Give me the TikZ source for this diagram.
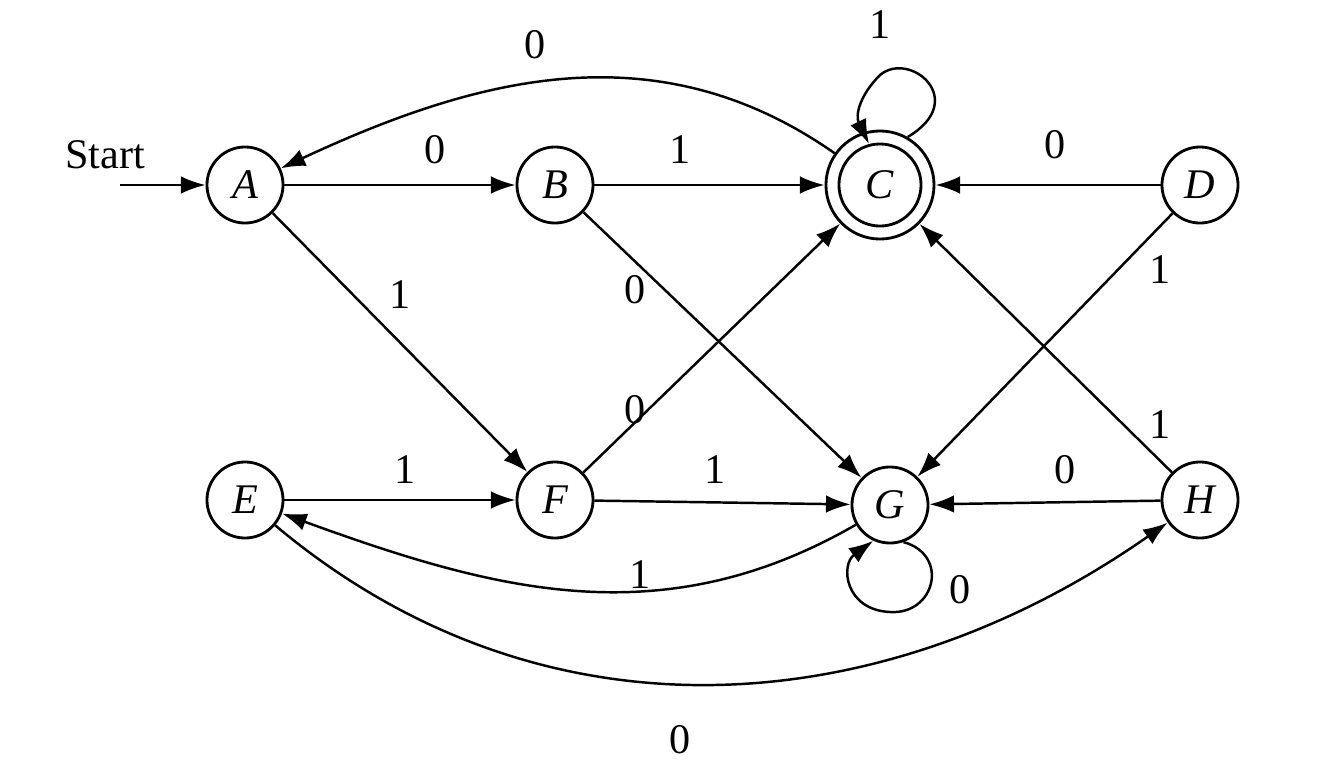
\documentclass[tikz,border=0pt]{standalone}
\usepackage{fontspec}
\setmainfont{Liberation Serif}
\usetikzlibrary{arrows.meta}
\begin{document}
\begin{tikzpicture}[x=0.01cm,y=-0.01cm,
  st/.style={circle,draw,line width=0.8pt,minimum size=0.76cm,inner sep=0pt,font=\fontsize{12}{14}\selectfont\itshape},
  e/.style={-{Latex[length=7pt,width=5pt]},line width=0.7pt},
  lb/.style={font=\fontsize{12}{14}\selectfont}]
\useasboundingbox (0,0) rectangle (1332,778);
\node[st] (A) at (245,185) {A};
\node[st] (B) at (555,185) {B};
\node[st,minimum size=0.82cm] (Ci) at (880,185) {C};
\node[circle,draw,line width=0.8pt,minimum size=1.08cm] (C) at (880,185) {};
\node[st] (D) at (1200,185) {D};
\node[st] (E) at (245,500) {E};
\node[st] (F) at (555,500) {F};
\node[st] (G) at (890,505) {G};
\node[st] (H) at (1200,500) {H};
\coordinate (s) at (120,185);
\node[lb] at (105,155) {Start};
\draw[e] (s) -- (A);
\draw[e] (C) to[out=145,in=25] (A); \node[lb] at (535,45) {0};
\draw[e] (A) -- (B); \node[lb] at (435,150) {0};
\draw[e] (B) -- (C); \node[lb] at (680,150) {1};
\draw[e] (C.60) .. controls (970,100) and (910,50) .. (880,75) .. controls (860,95) and (855,115) .. (Ci.105); \node[lb] at (880,25) {1};
\draw[e] (D) -- (C); \node[lb] at (1055,145) {0};
\draw[e] (A) -- (F); \node[lb] at (400,295) {1};
\draw[e] (B) -- (G); \node[lb] at (635,290) {0};
\draw[e] (F) -- (C); \node[lb] at (635,410) {0};
\draw[e] (D) -- (G); \node[lb] at (1160,270) {1};
\draw[e] (H) -- (C); \node[lb] at (1160,425) {1};
\draw[e] (E) -- (F); \node[lb] at (405,470) {1};
\draw[e] (F) -- (G); \node[lb] at (715,470) {1};
\draw[e] (H) -- (G); \node[lb] at (1065,470) {0};
\draw[e] (G) to[out=-150,in=-20] (E); \node[lb] at (640,575) {1};
\draw[e] (G.-70) .. controls (950,555) and (935,615) .. (890,612) .. controls (845,610) and (840,565) .. (G.-115); \node[lb] at (960,590) {0};
\draw[e] (E) to[out=-40,in=-145] (H); \node[lb] at (680,740) {0};
\end{tikzpicture}
\end{document}
